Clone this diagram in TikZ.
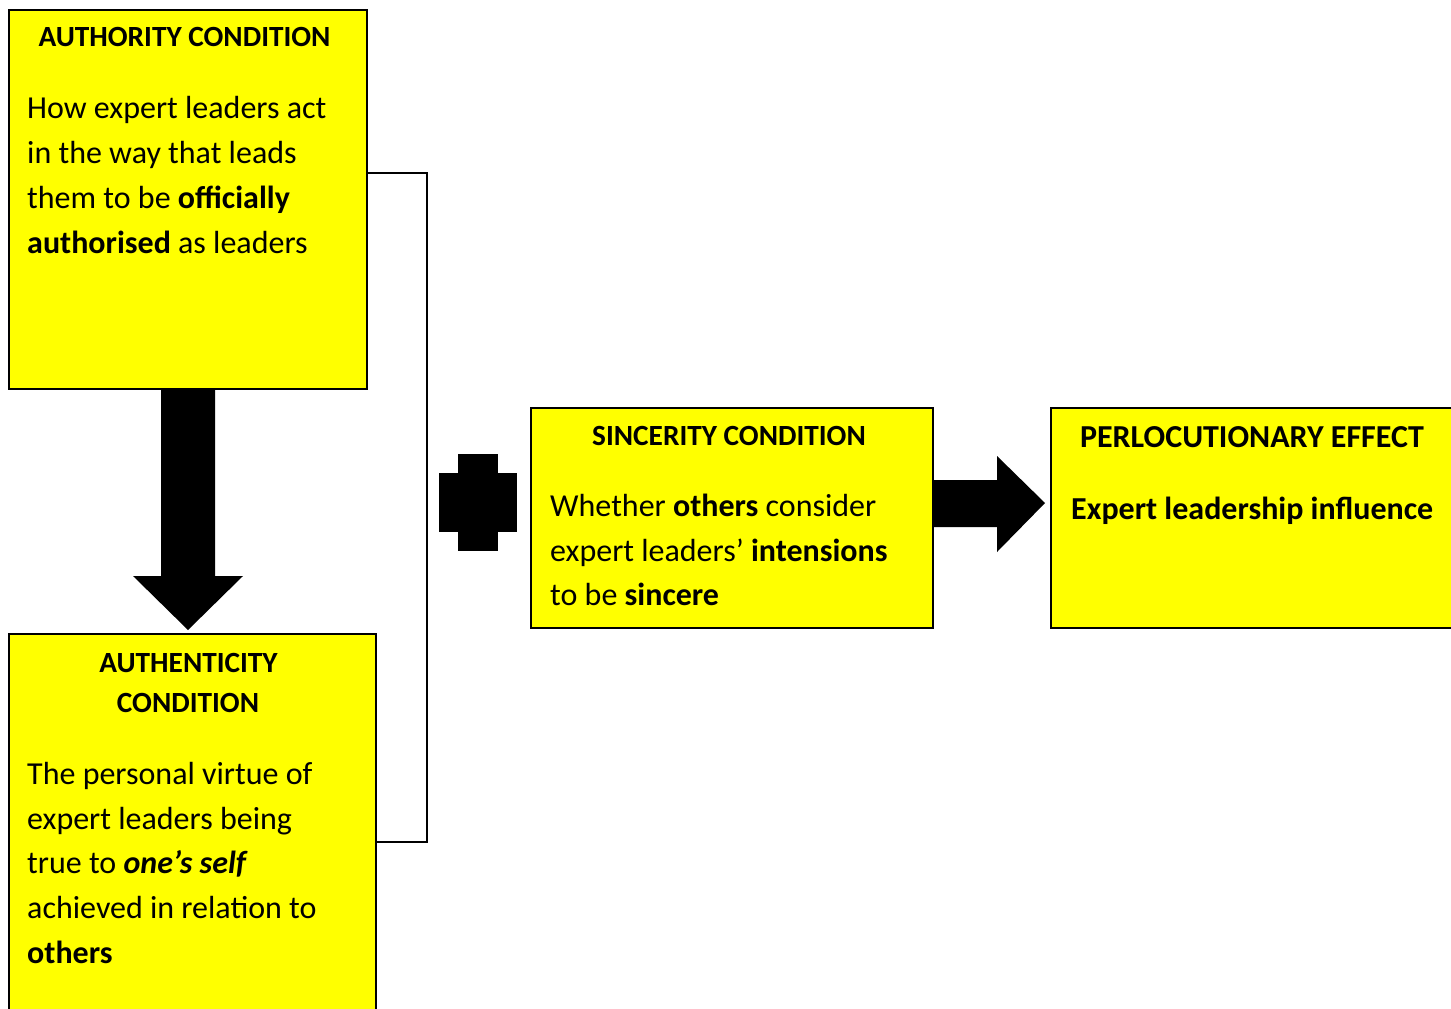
\documentclass[tikz,border=0pt]{standalone}
\usepackage{fontspec}
\setmainfont{Carlito}
\usetikzlibrary{calc}
\definecolor{boxyellow}{RGB}{255,255,0}
\begin{document}
\begin{tikzpicture}[x=1pt,y=-1pt,
  card/.style={draw=black, line width=2pt, fill=boxyellow, inner sep=0pt, outer sep=0pt, anchor=north west},
  head/.style={font=\fontsize{29.3}{34}\selectfont\bfseries, inner sep=0pt, anchor=base},
  body/.style={font=\fontsize{32}{38}\selectfont, inner sep=0pt, anchor=base west},
  solidshape/.style={fill=black, draw=none},
  link/.style={line width=2pt, line cap=rect}]
\useasboundingbox (0,0) rectangle (1451,1009);
\clip (0,0) rectangle (1451,1009);

% boxes
\node[card, minimum width=358pt, minimum height=379pt] (auth) at (9,10) {};
\node[card, minimum width=367pt, minimum height=400pt] (authc) at (9,634) {};
\node[card, minimum width=402pt, minimum height=220pt] (sinc) at (531,408) {};
\node[card, minimum width=420pt, minimum height=220pt] (perl) at (1051,408) {};

% authority condition
\node[head] (authT) at (184.5,46) {AUTHORITY CONDITION};
\node[body] (authL1) at (27,118) {How expert leaders act};
\node[body] (authL2) at (27,163) {in the way that leads};
\node[body] (authL3) at (27,208) {them to be \textbf{officially}};
\node[body] (authL4) at (27,253) {\textbf{authorised} as leaders};

% authenticity condition
\node[head] (authcT1) at (188.5,672) {AUTHENTICITY};
\node[head] (authcT2) at (188,712) {CONDITION};
\node[body] (authcL1) at (27,784) {The personal virtue of};
\node[body] (authcL2) at (27,829) {expert leaders being};
\node[body] (authcL3) at (27,873) {true to \textbf{\textit{one’s self}}};
\node[body] (authcL4) at (27,918) {achieved in relation to};
\node[body] (authcL5) at (27,963) {\textbf{others}};

% sincerity condition
\node[head] (sincT) at (729,445) {SINCERITY CONDITION};
\node[body] (sincL1) at (550,516) {Whether \textbf{others} consider};
\node[body] (sincL2) at (550,561) {expert leaders’ \textbf{intensions}};
\node[body] (sincL3) at (550,605) {to be \textbf{sincere}};

% perlocutionary effect
\node[head, font=\fontsize{32}{38}\selectfont\bfseries] (perlT) at (1252,447) {PERLOCUTIONARY EFFECT};
\node[body, font=\fontsize{32}{38}\selectfont\bfseries] (perlL1) at (1071,519) {Expert leadership influence};

% bracket joining the two left boxes
\draw[link] ($(auth.north east)+(2,163)$) -- ++(58,0) |- ($(authc.north east)+(1,208)$);

% block arrow from authority to authenticity
\fill[solidshape] ($(auth.south)+(-27,0)$) -- ++(0,187) -- ++(-28,0)
  -- ($(authc.north)+(-4.5,-4)$) -- ($(auth.south)+(55,187)$) -- ++(-28,0)
  -- ($(auth.south)+(27,0)$) -- cycle;

% plus sign
\fill[solidshape] (458,454) rectangle (498,551);
\fill[solidshape] (439,473) rectangle (517,532);

% block arrow from sincerity to perlocutionary effect
\fill[solidshape] ($(sinc.east)+(0,-38)$) -- ++(64,0) -- ++(0,-24)
  -- ($(perl.west)+(-6,-15)$) -- ($(sinc.east)+(64,34)$) -- ++(0,-25)
  -- ($(sinc.east)+(0,9)$) -- cycle;
\end{tikzpicture}
\end{document}
